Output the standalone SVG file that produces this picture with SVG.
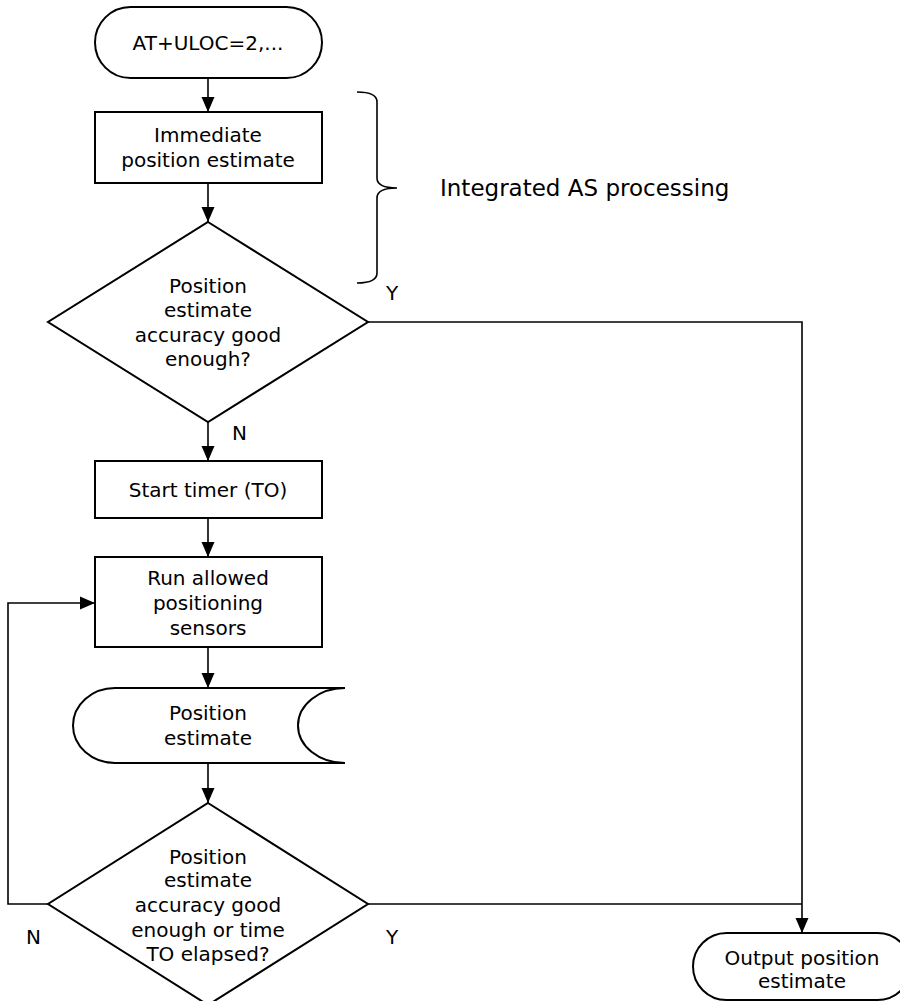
<svg xmlns="http://www.w3.org/2000/svg" width="900" height="1001" viewBox="0 0 900 1001">
<style>
.shape{fill:#fff;stroke:#000;stroke-width:2}
.conn{fill:none;stroke:#000;stroke-width:1.6}
text{font-family:"DejaVu Sans","Liberation Sans",sans-serif;font-size:20px;fill:#000;text-anchor:middle}
.lbl{text-anchor:start}
.big{font-size:23px;text-anchor:start}
</style>
<defs>
<marker id="ah" markerUnits="userSpaceOnUse" markerWidth="16" markerHeight="16" viewBox="0 0 16 16" refX="15" refY="8" orient="auto">
<path d="M0,1.5 L15,8 L0,14.5 Z" fill="#000"/>
</marker>
</defs>
<g id="connectors">
<line class="conn" x1="208" y1="78" x2="208" y2="112" marker-end="url(#ah)"/>
<line class="conn" x1="208" y1="183" x2="208" y2="222" marker-end="url(#ah)"/>
<line class="conn" x1="208" y1="422" x2="208" y2="461" marker-end="url(#ah)"/>
<line class="conn" x1="208" y1="518" x2="208" y2="557" marker-end="url(#ah)"/>
<line class="conn" x1="208" y1="647" x2="208" y2="688" marker-end="url(#ah)"/>
<line class="conn" x1="208" y1="763" x2="208" y2="803" marker-end="url(#ah)"/>
<polyline class="conn" points="48,904 8,904 8,603 95,603" marker-end="url(#ah)"/>
<polyline class="conn" points="368,322 802,322 802,933" marker-end="url(#ah)"/>
<line class="conn" x1="368" y1="904" x2="802" y2="904"/>
<path class="conn" d="M357,92 Q377,92 377,102 L377,178 Q377,188 397,188 Q377,188 377,198 L377,273 Q377,283 357,283"/>
</g>
<g id="start">
<rect class="shape" x="95" y="7" width="227" height="71" rx="35.5" ry="35.5"/>
<text x="208" y="50">AT+ULOC=2,...</text>
</g>
<g id="immediate">
<rect class="shape" x="95" y="112" width="227" height="71"/>
<text x="208" y="142">Immediate</text>
<text x="208" y="167">position estimate</text>
</g>
<g id="decision1">
<polygon class="shape" points="208,222 368,322 208,422 48,322"/>
<text x="208" y="293">Position</text>
<text x="208" y="317">estimate</text>
<text x="208" y="342">accuracy good</text>
<text x="208" y="366">enough?</text>
</g>
<g id="timer">
<rect class="shape" x="95" y="461" width="227" height="57"/>
<text x="208" y="497">Start timer (TO)</text>
</g>
<g id="sensors">
<rect class="shape" x="95" y="557" width="227" height="90"/>
<text x="208" y="585">Run allowed</text>
<text x="208" y="610">positioning</text>
<text x="208" y="635">sensors</text>
</g>
<g id="estimate">
<path class="shape" d="M345,688 L115,688 A42,37.5 0 0 0 115,763 L345,763 A47,37.5 0 0 1 345,688 Z"/>
<text x="208" y="720">Position</text>
<text x="208" y="745">estimate</text>
</g>
<g id="decision2">
<polygon class="shape" points="208,803 368,904 208,1005 48,904"/>
<text x="208" y="864">Position</text>
<text x="208" y="887">estimate</text>
<text x="208" y="912">accuracy good</text>
<text x="208" y="937">enough or time</text>
<text x="208" y="961">TO elapsed?</text>
</g>
<g id="output">
<rect class="shape" x="693" y="933" width="218" height="67" rx="33.5" ry="33.5"/>
<text x="802" y="965">Output position</text>
<text x="802" y="988">estimate</text>
</g>
<g id="labels">
<text class="big" x="440" y="196">Integrated AS processing</text>
<text class="lbl" x="386" y="300">Y</text>
<text class="lbl" x="232" y="440">N</text>
<text class="lbl" x="26" y="944">N</text>
<text class="lbl" x="386" y="944">Y</text>
</g>
</svg>
